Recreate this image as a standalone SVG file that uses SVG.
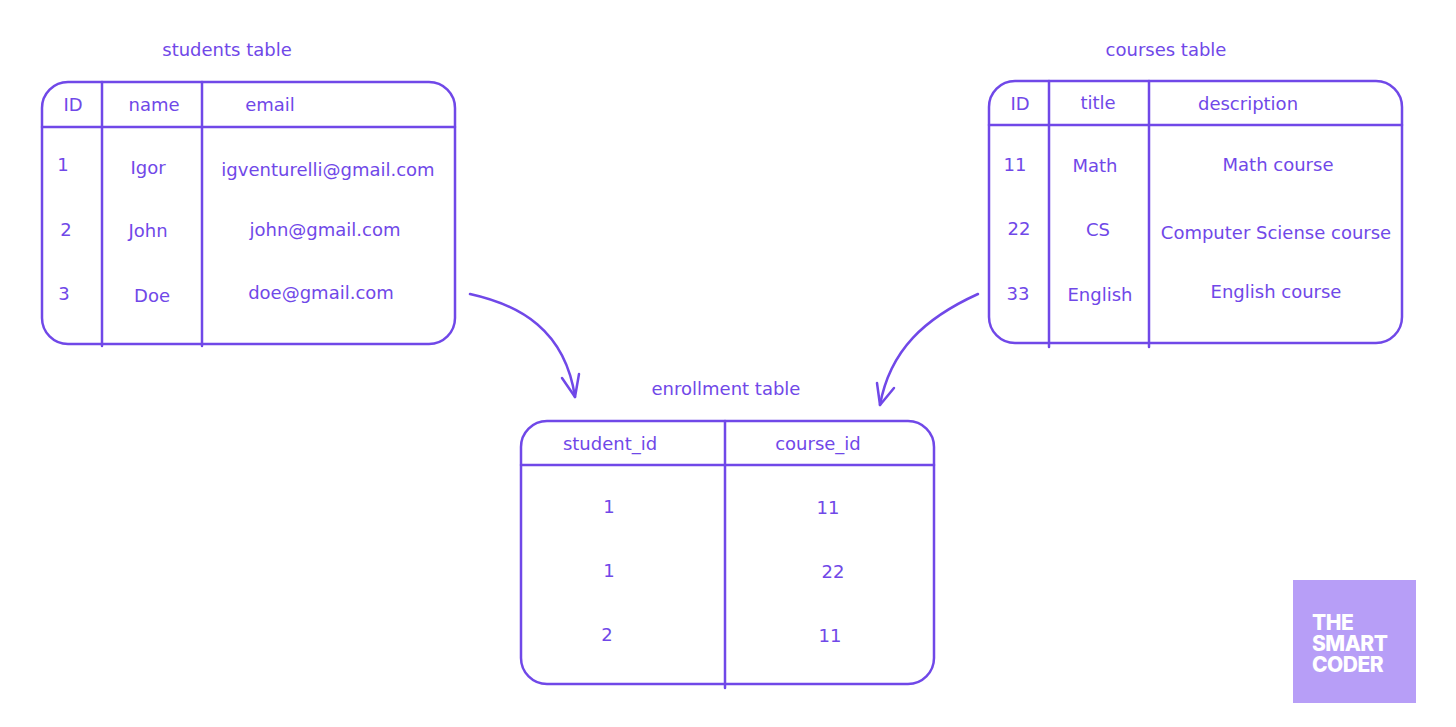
<svg xmlns="http://www.w3.org/2000/svg" width="1456" height="727" viewBox="0 0 1456 727">
<style>
.s{fill:none;stroke:#7048e8;stroke-width:2.5;stroke-linecap:round;stroke-linejoin:round}
text{font-family:"Comic Sans MS","DejaVu Sans",sans-serif;font-size:18px;fill:#7048e8;text-anchor:middle}
.l{font-family:Inter,"Liberation Sans",sans-serif;font-weight:800;font-size:21px;fill:#fff;text-anchor:start;letter-spacing:-0.5px}
</style>
<rect width="1456" height="727" fill="#fff"/>
<g id="students">
<text x="227" y="56">students table</text>
<rect class="s" x="42" y="82" width="413" height="262" rx="26"/>
<path class="s" d="M42 127H455M102 82V346M202 82V346"/>
<text x="73" y="111">ID</text><text x="154" y="111">name</text><text x="270" y="111">email</text>
<text x="63" y="171">1</text><text x="148" y="174">Igor</text><text x="328" y="176">igventurelli@gmail.com</text>
<text x="66" y="236">2</text><text x="148" y="237">John</text><text x="325" y="236">john@gmail.com</text>
<text x="64" y="300">3</text><text x="152" y="302">Doe</text><text x="321" y="299">doe@gmail.com</text>
</g>
<g id="courses">
<text x="1166" y="56">courses table</text>
<rect class="s" x="989" y="81" width="413" height="262" rx="26"/>
<path class="s" d="M989 125H1402M1049 81V347M1149 81V347"/>
<text x="1020" y="110">ID</text><text x="1098" y="109">title</text><text x="1248" y="110">description</text>
<text x="1015" y="171">11</text><text x="1095" y="172">Math</text><text x="1278" y="171">Math course</text>
<text x="1019" y="235">22</text><text x="1098" y="236">CS</text><text x="1276" y="239">Computer Sciense course</text>
<text x="1018" y="300">33</text><text x="1100" y="301">English</text><text x="1276" y="298">English course</text>
</g>
<g id="enrollment">
<text x="726" y="395">enrollment table</text>
<rect class="s" x="521" y="421" width="413" height="263" rx="26"/>
<path class="s" d="M521 465H934M725 421V688"/>
<text x="610" y="450">student_id</text><text x="818" y="450">course_id</text>
<text x="609" y="513">1</text><text x="828" y="514">11</text>
<text x="609" y="577">1</text><text x="833" y="578">22</text>
<text x="607" y="641">2</text><text x="830" y="642">11</text>
</g>
<g id="connectors">
<path class="s" d="M470 294C520 305 565 330 575 397"/>
<path class="s" d="M562 378L575 397L579 374"/>
<path class="s" d="M978 294C925 318 890 350 880 405"/>
<path class="s" d="M877 383L880 405L894 388"/>
</g>
<g id="logo">
<rect x="1293" y="580" width="123" height="123" fill="#b79ef7"/>
<text class="l" x="1312" y="630">THE</text>
<text class="l" x="1312" y="651">SMART</text>
<text class="l" x="1312" y="672">CODER</text>
</g>
</svg>
